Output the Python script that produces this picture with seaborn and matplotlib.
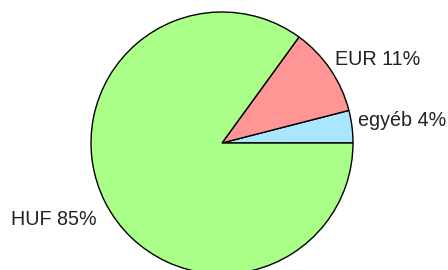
import matplotlib
matplotlib.use("Agg")
import matplotlib.pyplot as plt
import seaborn as sns

# currency share data
labels = ["egyéb", "EUR", "HUF"]
shares = [4, 11, 85]
colors = ["#aae6fd", "#ff9595", "#aaff88"]

sns.set_theme(style="white")
plt.rcParams["font.family"] = ["Liberation Sans", "DejaVu Sans"]

fig = plt.figure(figsize=(4.48, 2.70), dpi=100)
ax = fig.add_axes([0, 0, 1, 1])

texts = [f"{l} {s}%" for l, s in zip(labels, shares)]
wedges, lbls = ax.pie(shares, labels=texts, colors=colors, startangle=0,
                      counterclock=True, center=(222, 127), radius=131,
                      labeldistance=1.06, frame=True,
                      wedgeprops=dict(edgecolor="black", linewidth=1),
                      textprops=dict(fontsize=14.2, color="#222222"))

# label placement (pixel space of the axes), baseline anchored
label_pos = [(358, 144, "left"), (335, 205, "left"), (97, 45, "right")]
for t, (x, y, ha) in zip(lbls, label_pos):
    t.set_position((x, y))
    t.set_ha(ha)
    t.set_va("baseline")

ax.set_xlim(0, 448)
ax.set_ylim(0, 270)
ax.axis("off")

fig.savefig("out.png", dpi=100)
